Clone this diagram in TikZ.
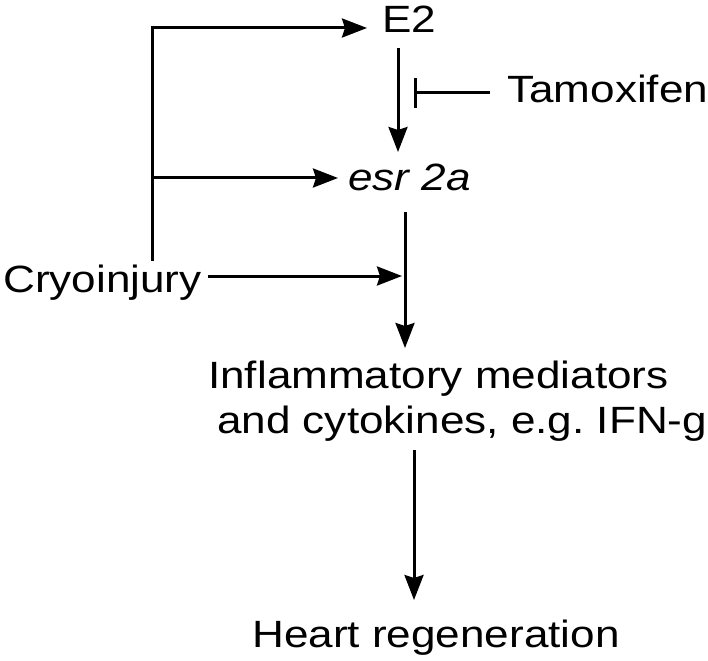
\documentclass[tikz,border=0pt]{standalone}
\usepackage{fontspec}
\setmainfont{Liberation Sans}[FakeStretch=1.16]
\usetikzlibrary{arrows.meta,calc}
\frenchspacing
\begin{document}
\begin{tikzpicture}[x=1pt,y=-1pt,
  lbl/.style={inner sep=0pt, anchor=base west, font=\fontsize{38}{45}\selectfont},
  conn/.style={line width=3pt},
  arr/.style={conn, -{Stealth[length=25pt,width=19pt,inset=3pt]}},
  inhib/.style={conn, -{Bar[width=30pt,line width=3pt]}}
]
\useasboundingbox (0,0) rectangle (708,660);
\fill[white] (0,0) rectangle (708,660);

\node[lbl] (e2) at (382,33) {E2};
\node[lbl] (tam) at (507,103) {Tamoxifen};
\node[lbl, font=\fontsize{38}{45}\selectfont\itshape] (esr) at (348,190) {esr 2a};
\node[lbl] (cryo) at (3,292) {Cryoinjury};
\node[lbl, align=left] (infl) at (208,433) {Inflammatory mediators\\\hspace*{9pt}and cytokines, e.g.\ IFN-g};
\node[lbl] (heart) at (252,647) {Heart regeneration};

\coordinate (jb) at ($(cryo.base west)+(149,-31)$);
\coordinate (j2) at ($(jb)+(0,-83)$);
\coordinate (m) at ($(esr.base west)+(57,86)$);
\coordinate (h) at ($(heart.base west)+(162,0)$);

\draw[arr] (jb) |- ($(e2.base west)+(-15,-5)$);
\draw[arr] (j2) -- ($(esr.base west)+(-10,-12)$);
\draw[arr] ($(e2.base west)+(16,15)$) -- ($(esr.base west)+(50,-38)$);
\draw[inhib] ($(tam.base west)+(-17,-10)$) -- ($(tam.base west)+(-93,-10)$);
\draw[arr] ($(esr.base west)+(57,22)$) -- ($(m)+(0,72)$);
\draw[arr] ($(cryo.base east)+(6,-16)$) -- ($(m)+(-3,0)$);
\draw[arr] ($(infl.south -| h)+(0,9)$) -- ($(h)+(0,-47)$);
\end{tikzpicture}
\end{document}
